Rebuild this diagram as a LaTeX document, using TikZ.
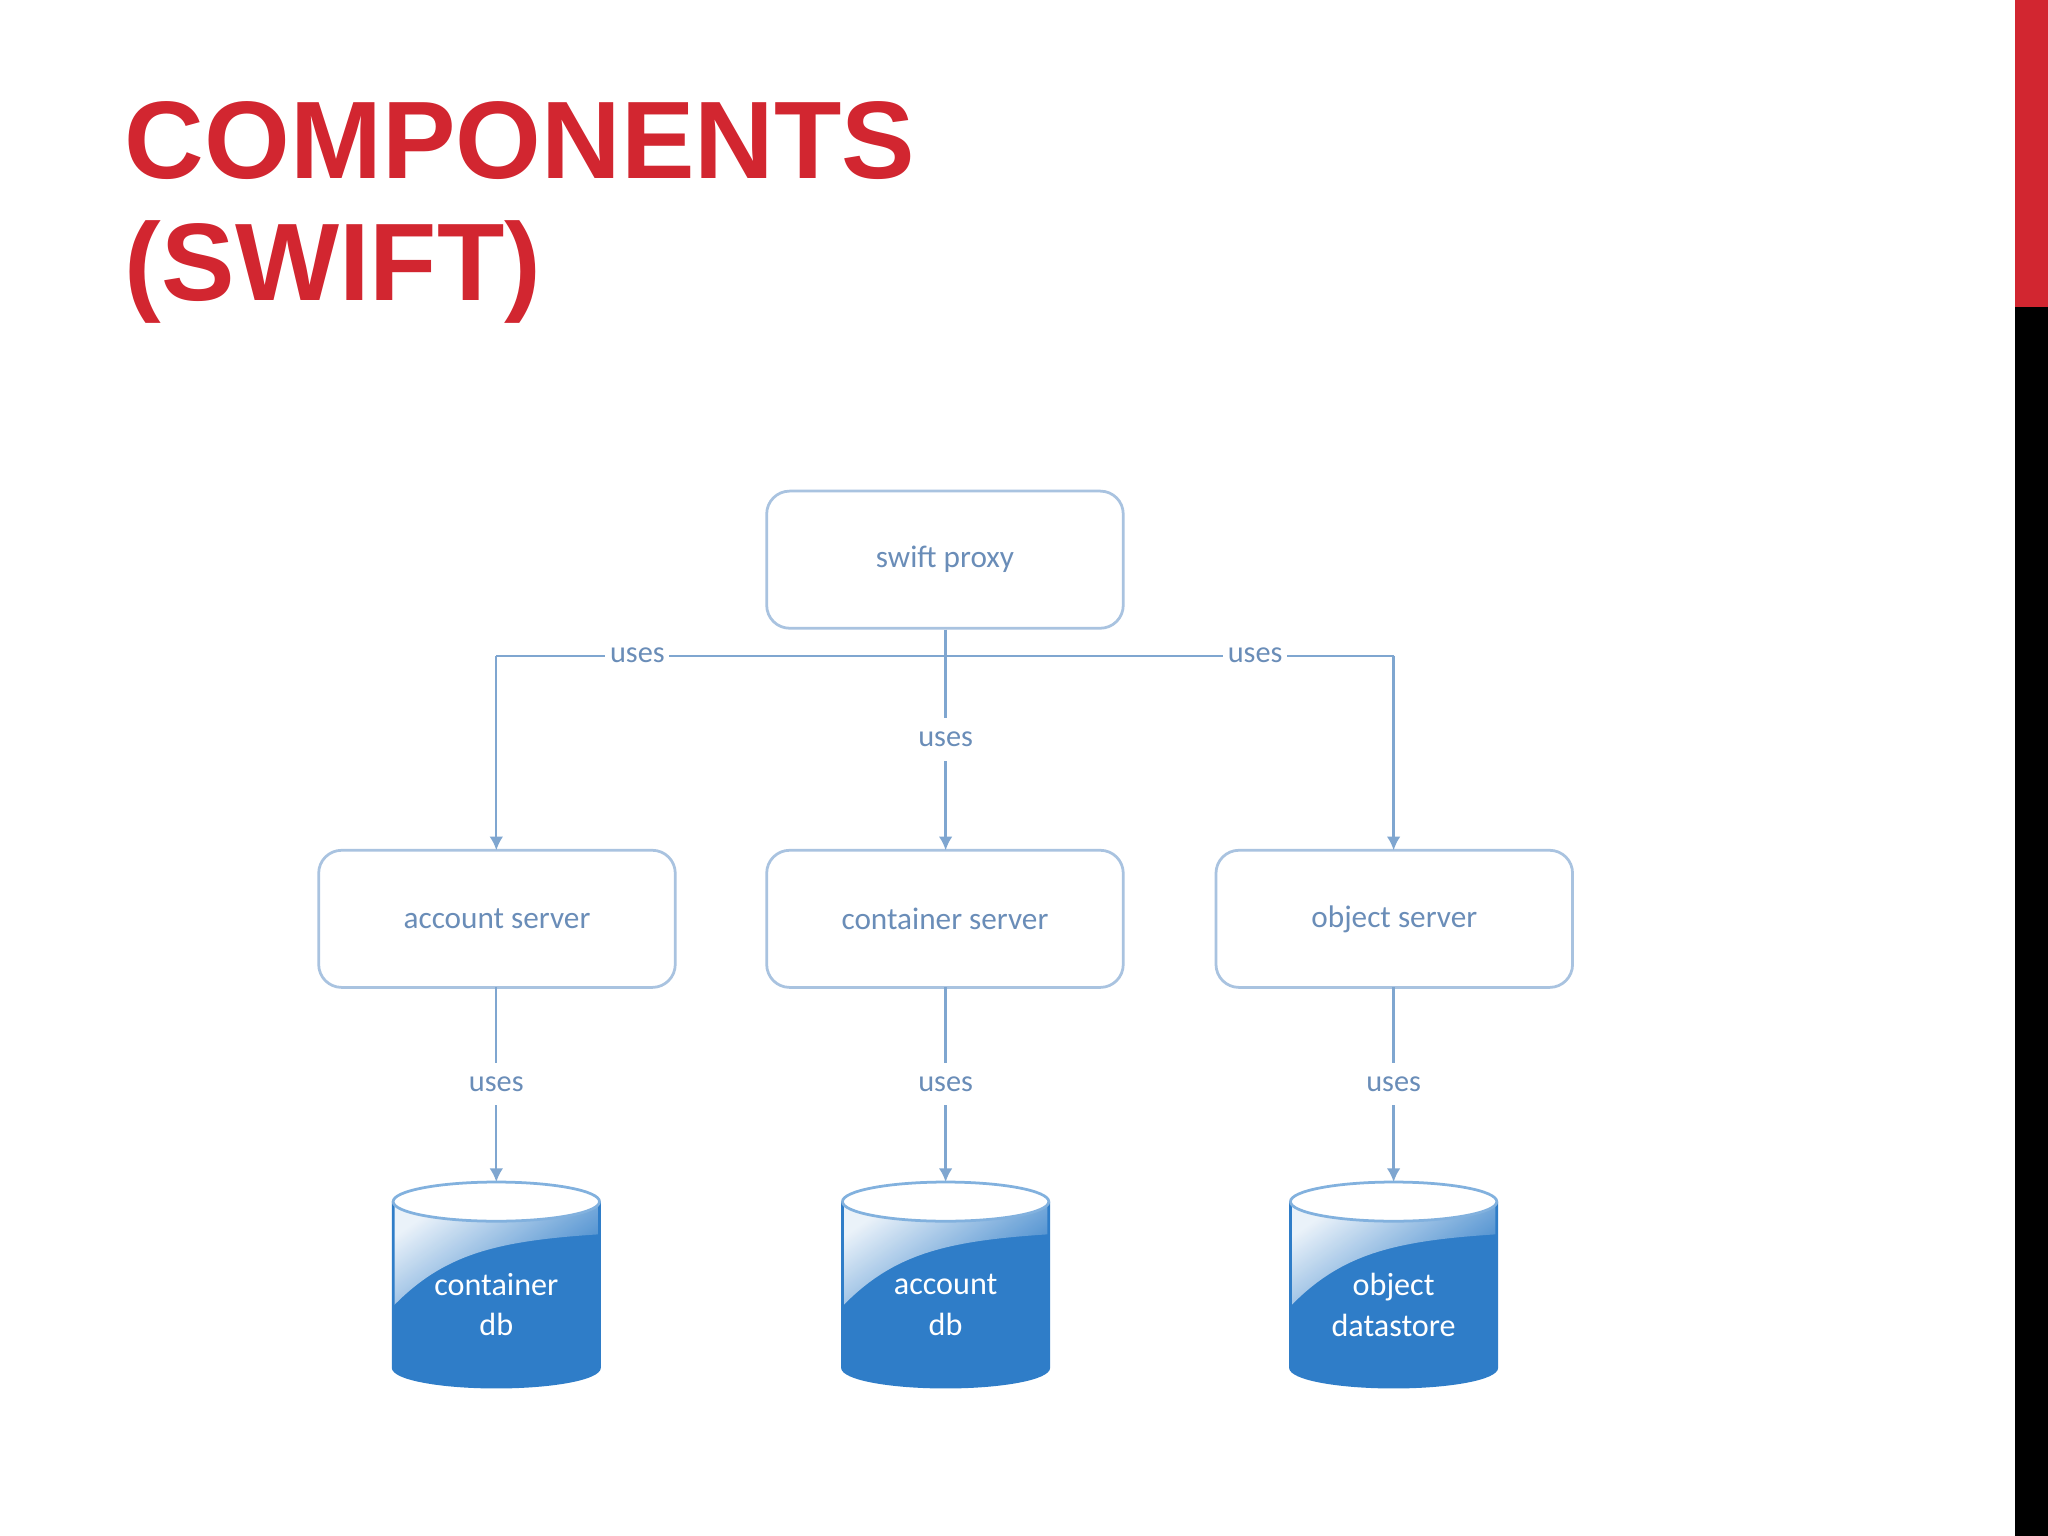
\documentclass[tikz,border=0pt]{standalone}
\usepackage{fontspec}
\setmainfont{Carlito}
\newfontfamily\titlefont{Liberation Sans}
\usetikzlibrary{arrows.meta}
\begin{document}
\begin{tikzpicture}[x=0.01cm,y=-0.01cm,
  conn/.style={draw=linec,line width=0.5pt,-{Latex[length=3pt,width=3pt]}},
  lab/.style={fill=white,text=txtc,inner sep=1pt,font=\fontsize{6.6}{8}\selectfont}]
\definecolor{boxc}{HTML}{A9C3E0}
\definecolor{txtc}{HTML}{6A8DB8}
\definecolor{linec}{HTML}{7FA6D0}
\definecolor{dbc}{HTML}{2F7DC8}
\definecolor{redc}{HTML}{D22630}
\path[use as bounding box] (0,0) rectangle (1568,1176);
\fill[white] (0,0) rectangle (1568,1176);
\fill[redc] (1543,0) rectangle (1568,235);
\fill[black] (1543,235) rectangle (1568,1176);
\node[anchor=base west,inner sep=0,text=redc,font=\titlefont\bfseries\fontsize{24}{30}\selectfont] (t1) at (95,137) {COMPONENTS};
\node[anchor=base west,inner sep=0,text=redc,font=\titlefont\bfseries\fontsize{24}{30}\selectfont] (t2) at (95,230) {(SWIFT)};
\foreach \n/\x/\y/\t in {proxy/587/376/swift proxy, acc/244/651/account server, con/587/651/container server, obj/931/651/object server}{
  \draw[boxc,line width=0.6pt,rounded corners=5pt,fill=white] (\x,\y) rectangle ++(273,105);
  \node[text=txtc,font=\fontsize{6.8}{8}\selectfont] (\n) at (\x+136.5,\y+52.5) {\t};
}
\coordinate (pb) at (724,482);
\coordinate (hl) at (380,502);
\coordinate (hr) at (1067,502);
\coordinate (accT) at (380,651);
\coordinate (conT) at (724,651);
\coordinate (objT) at (1067,651);
\draw[linec,line width=0.5pt] (hl) -- (hr);
\draw[conn] (hl) -- (accT);
\draw[conn] (hr) -- (objT);
\draw[conn] (pb) -- (conT);
\node[lab] (u1) at (488,502) {uses};
\node[lab] (u2) at (961,502) {uses};
\node[lab,inner sep=3pt] (u3) at (724,566) {uses};
\foreach \n/\x/\a/\b in {d1/380/container/db, d2/724/account/db, d3/1067/object/datastore}{
  \coordinate (\n s) at (\x,756);
  \coordinate (\n t) at (\x,905);
  \draw[conn] (\n s) -- (\n t);
  \node[lab,inner sep=3pt] at (\x,830) {uses};
  \fill[dbc] (\x-79,920) -- (\x-79,1047) arc[start angle=180,end angle=0,x radius=79,y radius=15] -- (\x+79,920) -- cycle;
  \shade[top color=white,bottom color=dbc,shading angle=35,opacity=0.9]
    (\x-79,920) -- (\x-79,1000) .. controls (\x-40,960) and (\x,950) .. (\x+79,945) -- (\x+79,920) -- cycle;
  \draw[dbc,line width=0.6pt] (\x-79,920) -- (\x-79,1047) arc[start angle=180,end angle=0,x radius=79,y radius=15] -- (\x+79,920);
  \filldraw[fill=white,draw=dbc!60,line width=0.6pt] (\x,920) ellipse[x radius=79,y radius=15];
  \node[text=white,align=center,font=\fontsize{7}{8.8}\selectfont] (\n) at (\x,999) {\a\\\b};
}
\end{tikzpicture}
\end{document}
